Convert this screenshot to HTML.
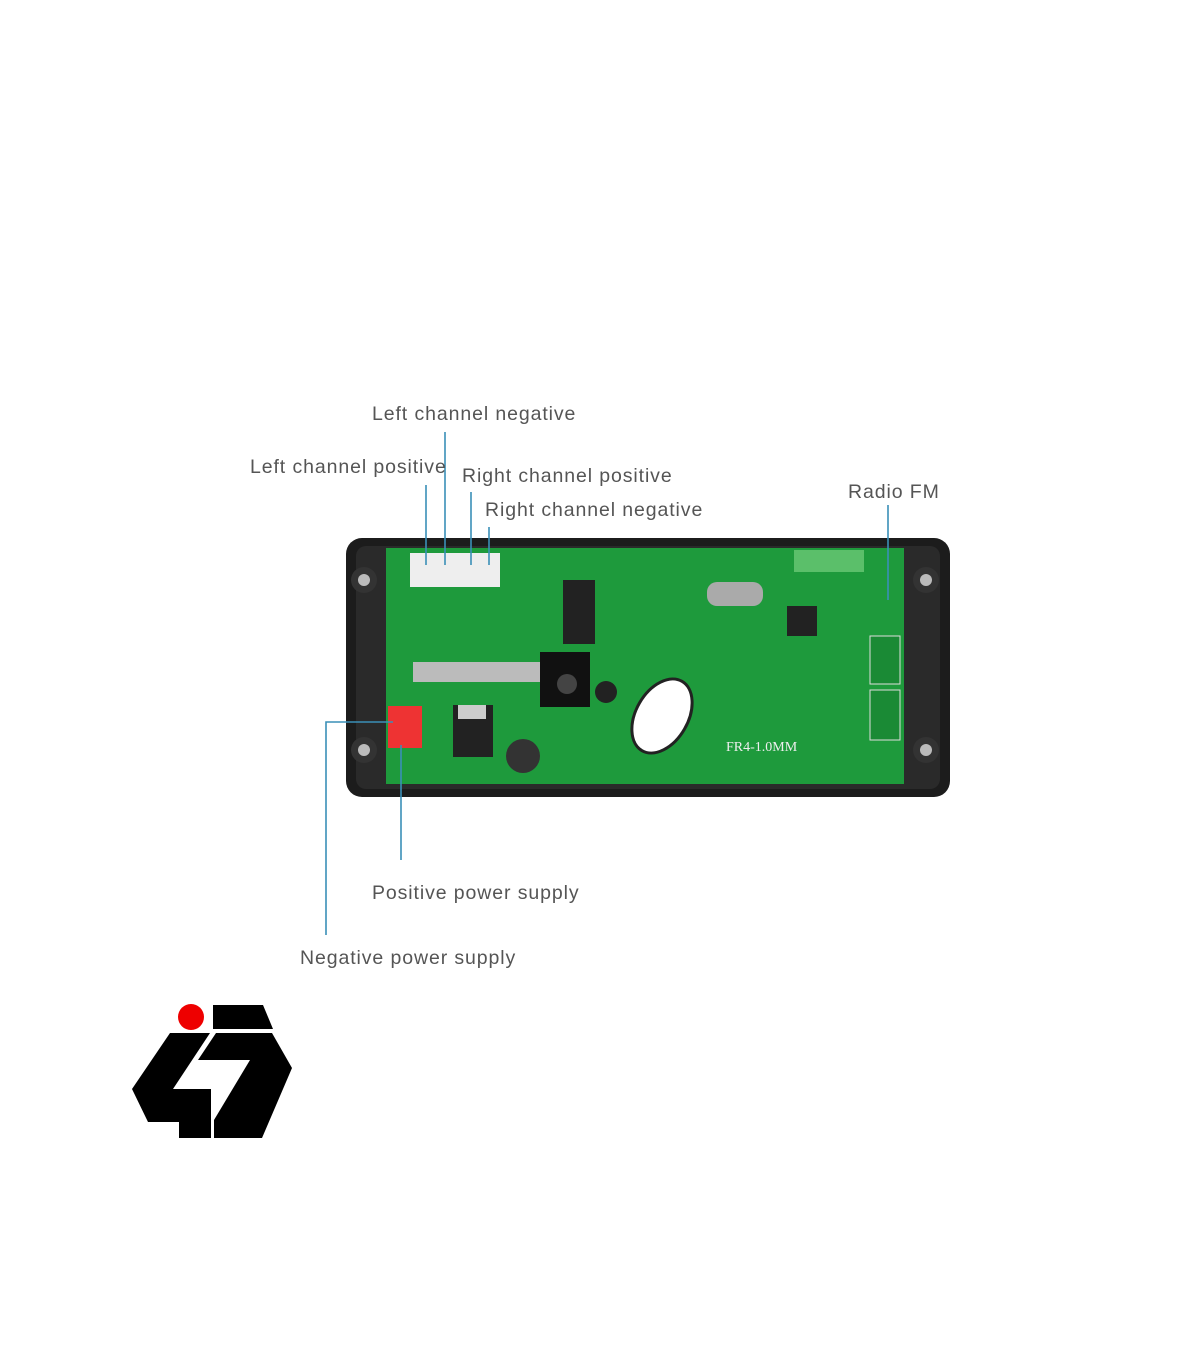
<!DOCTYPE html><html><head><style>body{margin:0;background:#fff}svg{display:block}text{font-family:"Liberation Sans",sans-serif;font-size:19.5px;fill:#555;letter-spacing:0.9px}</style></head><body>
<svg width="1200" height="1372" viewBox="0 0 1200 1372">
<rect x="346" y="538" width="604" height="259" rx="16" fill="#1c1c1c"/>
<rect x="356" y="546" width="584" height="243" rx="10" fill="#2a2a2a"/>
<circle cx="364" cy="580" r="13" fill="#333"/><circle cx="364" cy="580" r="6" fill="#bbb"/>
<circle cx="364" cy="750" r="13" fill="#333"/><circle cx="364" cy="750" r="6" fill="#bbb"/>
<circle cx="926" cy="580" r="13" fill="#333"/><circle cx="926" cy="580" r="6" fill="#bbb"/>
<circle cx="926" cy="750" r="13" fill="#333"/><circle cx="926" cy="750" r="6" fill="#bbb"/>
<rect x="386" y="548" width="518" height="236" fill="#1e9a3c"/>
<rect x="794" y="550" width="70" height="22" fill="#5bbf6a"/>
<rect x="410" y="553" width="46" height="34" fill="#eee"/><rect x="456" y="553" width="44" height="34" fill="#eee"/>
<rect x="563" y="580" width="32" height="64" fill="#222"/>
<rect x="413" y="662" width="150" height="20" fill="#bbb"/>
<rect x="540" y="652" width="50" height="55" fill="#111"/><circle cx="567" cy="684" r="10" fill="#444"/>
<rect x="707" y="582" width="56" height="24" rx="10" fill="#aaa"/>
<rect x="787" y="606" width="30" height="30" fill="#222"/>
<circle cx="606" cy="692" r="11" fill="#222"/>
<ellipse cx="662" cy="716" rx="26" ry="40" transform="rotate(30 662 716)" fill="#fff" stroke="#222" stroke-width="3"/>
<text x="726" y="751" style="font-size:14px;fill:#eee;font-family:'Liberation Serif',serif;letter-spacing:0">FR4-1.0MM</text>
<rect x="453" y="705" width="40" height="52" fill="#222"/><rect x="458" y="705" width="28" height="14" fill="#ccc"/>
<circle cx="523" cy="756" r="17" fill="#333"/>
<rect x="388" y="706" width="34" height="42" fill="#e33"/>
<rect x="870" y="636" width="30" height="48" fill="#1a8a35" stroke="#ddd"/><rect x="870" y="690" width="30" height="50" fill="#1a8a35" stroke="#ddd"/>
<g stroke="#3a8fb7" stroke-width="1.6" fill="none">
<path d="M426 485V565M445 432V565M471 492V565M489 527V565M888 505V600M393 722H326V935M401 745V860"/></g>
<text x="372" y="420">Left channel negative</text>
<text x="250" y="473">Left channel positive</text>
<text x="462" y="482">Right channel positive</text>
<text x="485" y="516">Right channel negative</text>
<text x="848" y="498">Radio FM</text>
<text x="372" y="899">Positive power supply</text>
<text x="300" y="964">Negative power supply</text>
<circle cx="191" cy="1017" r="13" fill="#e00"/>
<polygon points="213,1005 263,1005 273,1029 213,1029" fill="#000"/>
<polygon points="170,1033 210,1033 173,1089 211,1089 211,1138 179,1138 179,1122 148,1122 132,1089" fill="#000"/>
<polygon points="216,1033 272,1033 292,1068 262,1138 214,1138 214,1120 250,1060 198,1060" fill="#000"/>
</svg></body></html>
